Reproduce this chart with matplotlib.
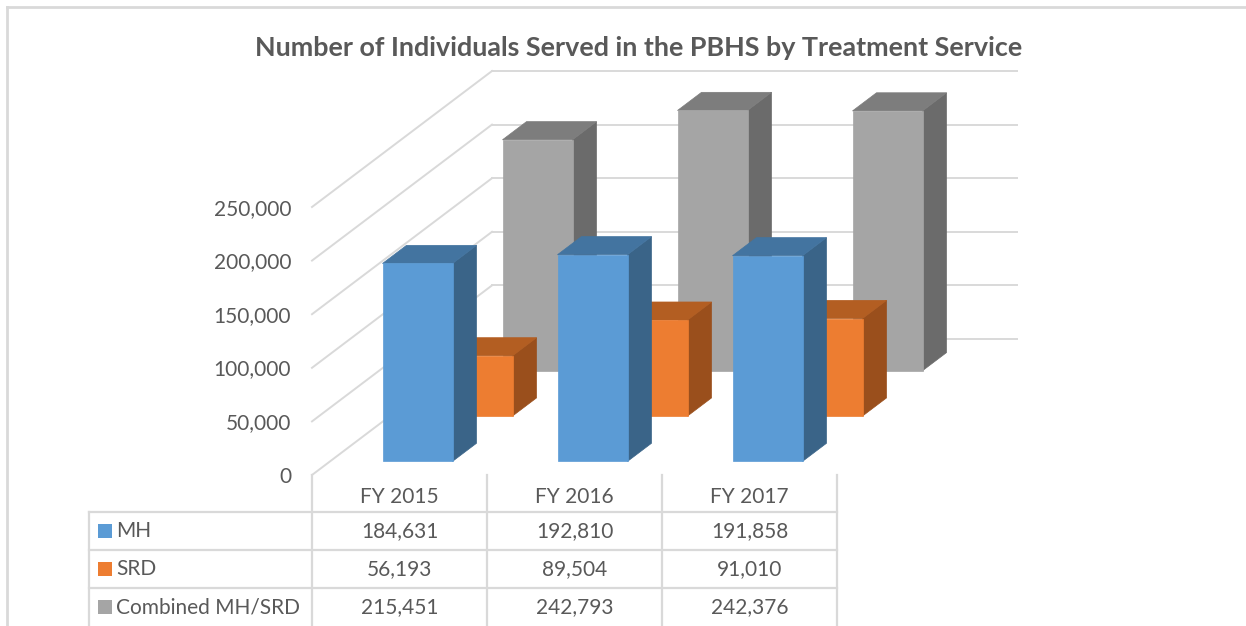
import matplotlib.pyplot as plt
from matplotlib.patches import Polygon, Rectangle
from matplotlib.lines import Line2D

plt.rcParams["font.family"] = ["Lato", "DejaVu Sans"]

years = ["FY 2015", "FY 2016", "FY 2017"]
series_names = ["MH", "SRD", "Combined MH/SRD"]
mh = [184631, 192810, 191858]
srd = [56193, 89504, 91010]
combined = [215451, 242793, 242376]
y_ticks = [0, 50000, 100000, 150000, 200000, 250000]

front_colors = ["#5B9BD5", "#ED7D31", "#A5A5A5"]
top_colors = ["#4374A0", "#B35E22", "#7D7D7D"]
side_colors = ["#3A6488", "#9A4F1C", "#6B6B6B"]
text_color = "#595959"
grid_color = "#D9D9D9"

W, H = 1246, 626
fig = plt.figure(figsize=(W / 100, H / 100), dpi=100)
ax = fig.add_axes([0, 0, 1, 1])
ax.axis("off")

# front plane of the box in pixels: x from 312 (3 categories of 175 px), value 0 at row 475
x0_px, cat_px = 312, 175
y0_px, ymax_px, ymax_val = 475, 207, 250000
px_per_val = (y0_px - ymax_px) / ymax_val
ax.set_xlim(-x0_px / cat_px, (W - x0_px) / cat_px)
ax.set_ylim(-(H - y0_px) / px_per_val, y0_px / px_per_val)


def px(p):
    return (p - x0_px) / cat_px


def py(p):
    return (y0_px - p) / px_per_val


# depth of the box (oblique view)
depth_x = 180 / cat_px
depth_y = 136 / px_per_val
n_cat = len(years)

# gridlines on side wall and back wall
for t in y_ticks:
    ax.plot([0, depth_x], [t, t + depth_y], color=grid_color, lw=1.4, zorder=1)
    ax.plot([depth_x, n_cat + depth_x], [t + depth_y] * 2, color=grid_color, lw=1.4, zorder=1)
    ax.text(px(291), t - 1500, f"{t:,}", ha="right", va="center", fontsize=15, color=text_color)

# bars, back series first
values = [mh, srd, combined]
bar_w = 0.4
for s in reversed(range(len(values))):
    d0 = (s + 0.3) / len(values)
    d1 = (s + 0.7) / len(values)
    ddx = (d1 - d0) * depth_x
    ddy = (d1 - d0) * depth_y
    for i, v in enumerate(values[s]):
        xl = i + (1 - bar_w) / 2 + d0 * depth_x
        xr = xl + bar_w
        yb = d0 * depth_y
        yt = yb + v
        ax.add_patch(Polygon([(xr, yb), (xr + ddx, yb + ddy), (xr + ddx, yt + ddy), (xr, yt)],
                             facecolor=side_colors[s], edgecolor=side_colors[s], lw=0.5, zorder=2))
        ax.add_patch(Polygon([(xl, yt), (xr, yt), (xr + ddx, yt + ddy), (xl + ddx, yt + ddy)],
                             facecolor=top_colors[s], edgecolor=top_colors[s], lw=0.5, zorder=2))
        ax.add_patch(Rectangle((xl, yb), bar_w, v, facecolor=front_colors[s],
                               edgecolor=front_colors[s], lw=0.5, zorder=2))

# data table
tbl_left = px(89)
row_lines = [py(512), py(550), py(588)]
for k in range(n_cat + 1):
    ax.plot([k, k], [py(475), py(626)], color=grid_color, lw=1.6, zorder=1)
ax.plot([tbl_left, tbl_left], [py(512), py(626)], color=grid_color, lw=1.6)
for r in row_lines:
    ax.plot([tbl_left, n_cat], [r, r], color=grid_color, lw=1.6)

for i, yr in enumerate(years):
    ax.text(i + 0.5, py(497), yr, ha="center", va="center", fontsize=15, color=text_color)

row_y = [py(531), py(569), py(607)]
sq = 14
for s, name in enumerate(series_names):
    ax.add_patch(Rectangle((px(98), row_y[s] - sq / 2 / px_per_val), sq / cat_px, sq / px_per_val,
                           facecolor=front_colors[s], edgecolor="none"))
    ax.text(px(116), row_y[s], name, ha="left", va="center", fontsize=15, color=text_color)
    for i, v in enumerate(values[s]):
        ax.text(i + 0.5, row_y[s], f"{v:,}", ha="center", va="center", fontsize=15, color=text_color)

fig.text(639 / W, 1 - 48 / H, "Number of Individuals Served in the PBHS by Treatment Service",
         ha="center", va="center", fontsize=19.4, fontweight="bold", color=text_color)

# chart border (left and top)
fig.add_artist(Line2D([7 / W, 7 / W], [0, 1 - 7 / H], color=grid_color, lw=2))
fig.add_artist(Line2D([7 / W, 1], [1 - 7 / H, 1 - 7 / H], color=grid_color, lw=2))

fig.savefig("out.png", dpi=100)
